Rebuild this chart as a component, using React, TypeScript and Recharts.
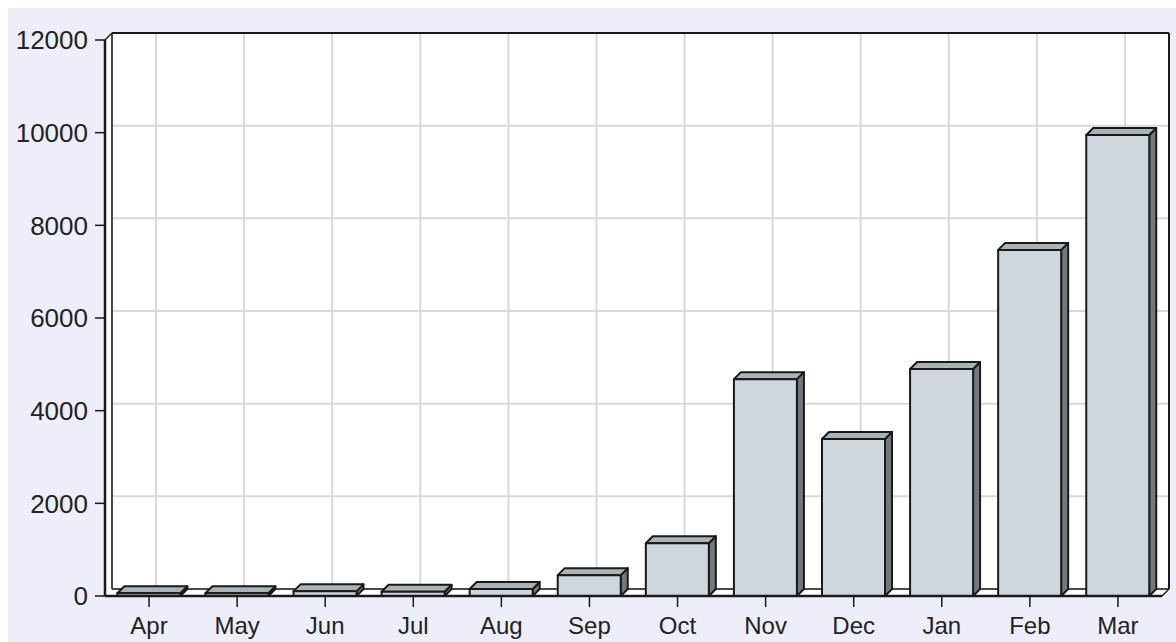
import { Bar, BarChart, CartesianGrid, ReferenceArea, XAxis, YAxis } from "recharts";

const months = ["Apr", "May", "Jun", "Jul", "Aug", "Sep", "Oct", "Nov", "Dec", "Jan", "Feb", "Mar"];
const values = [60, 60, 100, 90, 150, 450, 1140, 4680, 3390, 4900, 7470, 9950];
const yTicks = [0, 2000, 4000, 6000, 8000, 10000, 12000];

const data = months.map((month, i) => ({ month, value: values[i] }));

const DEPTH = 7;
const INK = "#1a1a1a";
const GRID = "#d8d8d8";
const FONT = "'Liberation Sans', Arial, sans-serif";

// white box: left wall, back wall and floor
function Walls(props: any) {
  const { x, y, width, height } = props;
  const d = DEPTH;
  const x1 = x + width;
  const y1 = y + height;
  const pts = [
    [x, y1],
    [x, y],
    [x + d, y - d],
    [x1 + d, y - d],
    [x1 + d, y1 - d],
    [x1, y1],
  ]
    .map((p) => p.join(","))
    .join(" ");
  return <polygon points={pts} fill="#ffffff" stroke="none" />;
}

function WallEdges(props: any) {
  const { x, y, width, height } = props;
  const d = DEPTH;
  const x1 = x + width;
  const y1 = y + height;
  return (
    <g stroke={INK} fill="none">
      <line x1={x + d} y1={y - d} x2={x1 + d} y2={y - d} strokeWidth={2} />
      <line x1={x1 + d} y1={y - d} x2={x1 + d} y2={y1 - d} strokeWidth={2} />
      <line x1={x + d} y1={y - d} x2={x + d} y2={y1 - d} strokeWidth={1.5} />
      <line x1={x} y1={y} x2={x + d} y2={y - d} strokeWidth={1.5} />
      <line x1={x + d} y1={y1 - d} x2={x1 + d} y2={y1 - d} strokeWidth={1.5} />
      <line x1={x1} y1={y1} x2={x1 + d} y2={y1 - d} strokeWidth={1.5} />
    </g>
  );
}

const hLine = (p: any) => (
  <line x1={p.x1 + DEPTH} y1={p.y1 - DEPTH} x2={p.x2 + DEPTH} y2={p.y2 - DEPTH} stroke={GRID} strokeWidth={2} />
);
const vLine = (p: any) => (
  <line x1={p.x1 + DEPTH} y1={p.y1 - DEPTH} x2={p.x2 + DEPTH} y2={p.y2 - DEPTH} stroke={GRID} strokeWidth={2} />
);

function Bar3D(props: any) {
  const { x, y, width, height } = props;
  if (x == null || width == null) return null;
  const d = DEPTH;
  const top = `${x},${y} ${x + d},${y - d} ${x + width + d},${y - d} ${x + width},${y}`;
  const side = `${x + width},${y} ${x + width + d},${y - d} ${x + width + d},${y + height - d} ${x + width},${y + height}`;
  return (
    <g stroke={INK} strokeWidth={2} strokeLinejoin="round">
      <polygon points={side} fill="#6f797e" />
      <polygon points={top} fill="#a9b3b8" />
      <rect x={x} y={y} width={width} height={height} fill="#cdd7dd" />
    </g>
  );
}

export default function App() {
  return (
    <div style={{ position: "absolute", left: 8, top: 8 }}>
      <BarChart
        width={1168}
        height={634}
        data={data}
        margin={{ top: 32, right: 14, bottom: 0, left: 0 }}
        barCategoryGap="14%"
        style={{ background: "#eeeefa", fontFamily: FONT }}
      >
        <ReferenceArea y1={0} y2={12000} shape={<Walls />} ifOverflow="visible" zIndex={-200} />
        <CartesianGrid horizontal={hLine} vertical={vLine} />
        <ReferenceArea y1={0} y2={12000} shape={<WallEdges />} ifOverflow="visible" zIndex={-50} />
        <XAxis
          dataKey="month"
          height={46}
          tickSize={11}
          tickMargin={10}
          axisLine={{ stroke: INK, strokeWidth: 2.5 }}
          tickLine={{ stroke: INK, strokeWidth: 1.5 }}
          tick={{ fill: "#222", fontSize: 24, fontFamily: FONT }}
          interval={0}
        />
        <YAxis
          width={97}
          domain={[0, 12000]}
          ticks={yTicks}
          tickSize={10}
          tickMargin={7}
          axisLine={{ stroke: INK, strokeWidth: 2.5 }}
          tickLine={{ stroke: INK, strokeWidth: 1.5 }}
          tick={{ fill: "#222", fontSize: 26, fontFamily: FONT }}
          interval={0}
        />
        <Bar dataKey="value" shape={<Bar3D />} isAnimationActive={false} />
      </BarChart>
    </div>
  );
}
